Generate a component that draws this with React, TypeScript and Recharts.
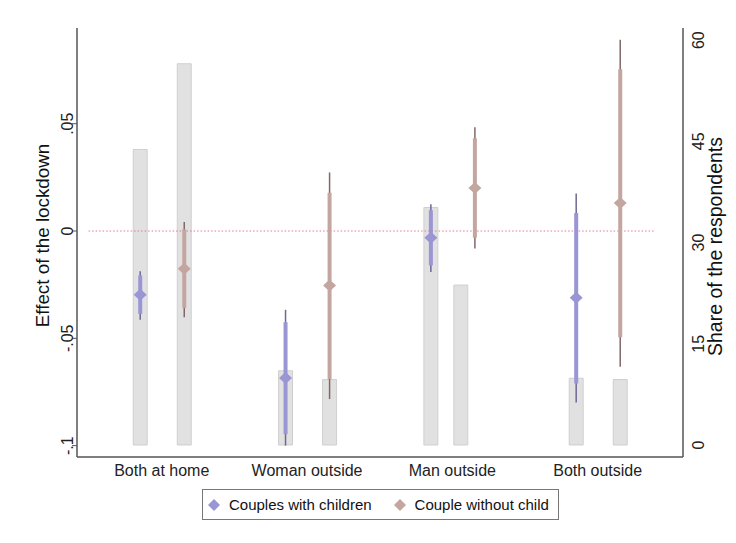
import React from 'react';
import { ComposedChart, Scatter, ErrorBar, XAxis, YAxis, ReferenceArea, ReferenceLine } from 'recharts';

const categories = ['Both at home', 'Woman outside', 'Man outside', 'Both outside'];

// point estimates (left axis)
const effectChildren = [-0.0297, -0.0685, -0.0031, -0.0311];
const effectNoChild = [-0.0176, -0.0254, 0.0201, 0.0131];

// narrow (thick) and wide (thin) confidence intervals
const thickLowChildren = [-0.0386, -0.0947, -0.016, -0.071];
const thickHighChildren = [-0.0207, -0.0425, 0.0097, 0.0084];
const thinLowChildren = [-0.0413, -0.1, -0.0191, -0.0799];
const thinHighChildren = [-0.0187, -0.0367, 0.0125, 0.0175];

const thickLowNoChild = [-0.0358, -0.069, -0.0031, -0.0495];
const thickHighNoChild = [0.0008, 0.0178, 0.0432, 0.0754];
const thinLowNoChild = [-0.0402, -0.0783, -0.0082, -0.0632];
const thinHighNoChild = [0.0042, 0.0273, 0.0483, 0.0891];

// share of respondents (right axis)
const shareChildren = [43.8, 11.0, 35.2, 9.9];
const shareNoChild = [56.5, 9.7, 23.7, 9.7];

const leftTicks = [-0.1, -0.05, 0, 0.05];
const rightTicks = [0, 15, 30, 45, 60];

// horizontal placement inside each group
const offChildren = [-0.148, -0.148, -0.148, -0.148];
const offNoChild = [0.155, 0.155, 0.155, 0.155];
const barOffNoChild = [0.155, 0.155, 0.058, 0.155];
const barHalf = 0.048;

const PURPLE = '#9a95d3';
const PURPLE_DARK = '#6e6890';
const BROWN = '#c4a6a0';
const BROWN_DARK = '#7f6a68';

const fmtLeft = (v: number) => {
  if (v === 0) return '0';
  return (v < 0 ? '-' : '') + String(Math.abs(v)).replace(/^0/, '');
};

const build = (est: number[], off: number[], tl: number[], th: number[], nl: number[], nh: number[]) =>
  est.map((v, i) => ({
    x: i + 1 + off[i],
    y: v,
    thin: [v - nl[i], nh[i] - v],
    thick: [v - tl[i], th[i] - v],
  }));

const dataChildren = build(effectChildren, offChildren, thickLowChildren, thickHighChildren, thinLowChildren, thinHighChildren);
const dataNoChild = build(effectNoChild, offNoChild, thickLowNoChild, thickHighNoChild, thinLowNoChild, thinHighNoChild);

const Diamond = (props: any) => {
  const { cx, cy, fill } = props;
  return <polygon points={`${cx},${cy - 6} ${cx + 6.5},${cy} ${cx},${cy + 6} ${cx - 6.5},${cy}`} fill={fill} />;
};

const LeftTick = ({ x, y, payload }: any) => (
  <text transform={`translate(${x - 3},${y}) rotate(-90)`} textAnchor="middle" dy="0.35em"
    fontSize={16} fill="#222" fontFamily="Liberation Sans, Arial, sans-serif">
    {fmtLeft(payload.value)}
  </text>
);

const RightTick = ({ x, y, payload }: any) => (
  <text transform={`translate(${x + 15},${y}) rotate(-90)`} textAnchor="middle" dy="0.35em"
    fontSize={16} fill="#222" fontFamily="Liberation Sans, Arial, sans-serif">
    {payload.value}
  </text>
);

const LegendDiamond = ({ color }: { color: string }) => (
  <svg width={14} height={14} style={{ display: 'block' }}>
    <polygon points="7,1 13,7 7,13 1,7" fill={color} />
  </svg>
);

export default function App() {
  const font = 'Liberation Sans, Arial, sans-serif';
  return (
    <div style={{ position: 'relative', width: 736, height: 543, background: '#fff', fontFamily: font }}>
      <style>{'body{margin:0}'}</style>
      <ComposedChart width={736} height={543} margin={{ top: 28, right: 0, left: 0, bottom: 56 }}>
        <XAxis
          dataKey="x"
          type="number"
          domain={[0.417, 4.587]}
          ticks={[1, 2, 3, 4]}
          tickFormatter={(v: number) => categories[v - 1]}
          allowDataOverflow
          height={30}
          tickSize={0}
          tickMargin={8}
          tickLine={false}
          axisLine={{ stroke: '#555', strokeWidth: 1.5 }}
          tick={{ fontSize: 16, fill: '#222', fontFamily: font }}
        />
        <YAxis
          yAxisId="left"
          dataKey="y"
          orientation="left"
          type="number"
          width={77}
          domain={[-0.1053, 0.0946]}
          ticks={leftTicks}
          allowDataOverflow
          tickSize={5}
          tickMargin={2}
          axisLine={{ stroke: '#555', strokeWidth: 1.5 }}
          tickLine={{ stroke: '#555' }}
          tick={<LeftTick />}
          label={{
            content: ({ viewBox }: any) => (
              <text transform={`translate(${viewBox.x + 42},${viewBox.y + viewBox.height / 2 - 7}) rotate(-90)`}
                textAnchor="middle" dy="0.35em" fontSize={18.8} fill="#111" fontFamily={font}>
                Effect of the lockdown
              </text>
            ),
          }}
        />
        <YAxis
          yAxisId="right"
          orientation="right"
          type="number"
          width={53}
          domain={[-1.78, 61.8]}
          ticks={rightTicks}
          allowDataOverflow
          tickSize={0}
          tickMargin={0}
          tickLine={false}
          axisLine={{ stroke: '#555', strokeWidth: 1.5 }}
          tick={<RightTick />}
          label={{
            content: ({ viewBox }: any) => (
              <text transform={`translate(${viewBox.x + 32},${viewBox.y + viewBox.height / 2 + 4}) rotate(-90)`}
                textAnchor="middle" dy="0.35em" fontSize={19.5} fill="#111" fontFamily={font}>
                Share of the respondents
              </text>
            ),
          }}
        />

        {shareChildren.map((s, i) => (
          <ReferenceArea key={`bc${i}`} yAxisId="right" x1={i + 1 + offChildren[i] - barHalf} x2={i + 1 + offChildren[i] + barHalf}
            y1={0} y2={s} fill="#e1e1e1" fillOpacity={1} stroke="#cfcfcf" strokeWidth={1} />
        ))}
        {shareNoChild.map((s, i) => (
          <ReferenceArea key={`bn${i}`} yAxisId="right" x1={i + 1 + barOffNoChild[i] - barHalf} x2={i + 1 + barOffNoChild[i] + barHalf}
            y1={0} y2={s} fill="#e1e1e1" fillOpacity={1} stroke="#cfcfcf" strokeWidth={1} />
        ))}

        <ReferenceLine yAxisId="left" segment={[{ x: 0.497, y: 0 }, { x: 4.393, y: 0 }]}
          stroke="#e07a90" strokeWidth={1} strokeDasharray="1.5 2" />

        <Scatter yAxisId="left" data={dataChildren} dataKey="y" fill={PURPLE} shape={<Diamond />} isAnimationActive={false}>
          <ErrorBar dataKey="thin" direction="y" width={0} stroke={PURPLE_DARK} strokeWidth={1.5} isAnimationActive={false} />
          <ErrorBar dataKey="thick" direction="y" width={0} stroke={PURPLE} strokeWidth={4} isAnimationActive={false} />
        </Scatter>
        <Scatter yAxisId="left" data={dataNoChild} dataKey="y" fill={BROWN} shape={<Diamond />} isAnimationActive={false}>
          <ErrorBar dataKey="thin" direction="y" width={0} stroke={BROWN_DARK} strokeWidth={1.5} isAnimationActive={false} />
          <ErrorBar dataKey="thick" direction="y" width={0} stroke={BROWN} strokeWidth={4} isAnimationActive={false} />
        </Scatter>
      </ComposedChart>

      <div style={{
        position: 'absolute', left: 202, top: 489, width: 357, height: 31, boxSizing: 'border-box',
        border: '1px solid #777', display: 'flex', alignItems: 'center', fontSize: 15, color: '#111',
      }}>
        <div style={{ marginLeft: 4 }}><LegendDiamond color={PURPLE} /></div>
        <span style={{ marginLeft: 8 }}>Couples with children</span>
        <div style={{ marginLeft: 21 }}><LegendDiamond color={BROWN} /></div>
        <span style={{ marginLeft: 8 }}>Couple without child</span>
      </div>
    </div>
  );
}
